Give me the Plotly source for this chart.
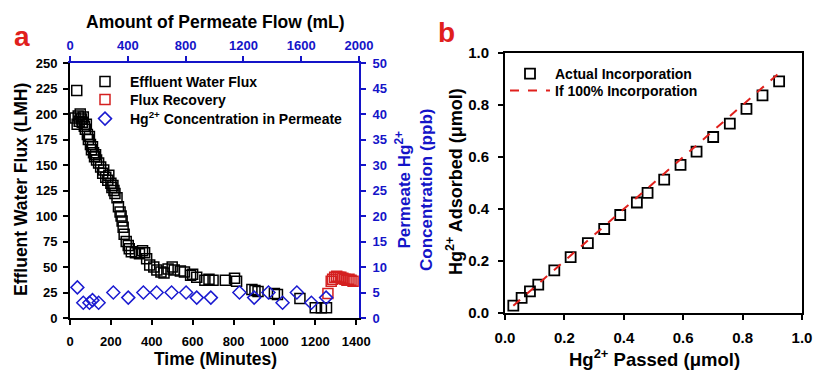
import plotly.graph_objects as go

# ---------------- data (panel a) ----------------
flux_time = [25, 33, 35, 40, 45, 50, 55, 60, 65, 70, 75, 80, 85, 90, 95, 100, 105, 110, 115, 120,
             125, 130, 140, 150, 160, 165, 175, 185, 190, 200, 205, 210, 215, 220, 230, 237, 245,
             250, 255, 260, 265, 275, 285, 290, 300, 320, 340, 355, 365, 375, 390, 410, 425, 445,
             460, 480, 500, 510, 540, 560, 590, 600, 620, 660, 680, 700, 760, 805, 815, 890, 905,
             920, 1000, 1015, 1125, 1200, 1230, 1255]
flux_val = [196, 223, 190, 198, 193, 200, 195, 192, 197, 188, 185, 190, 180, 175, 178, 170, 165, 168,
            162, 158, 160, 155, 152, 148, 142, 145, 138, 135, 140, 132, 128, 130, 125, 122, 118, 109,
            104, 100, 95, 89, 82, 75, 71, 68, 65, 64, 63, 66, 64, 58, 52, 50, 47, 45, 44, 48, 50, 47,
            46, 45, 42, 43, 40, 37, 38, 37, 37, 39, 36, 28, 27, 26, 24, 23, 19, 10, 10, 10]

recov_time = [1262, 1278, 1285, 1295, 1305, 1315, 1325, 1335, 1345, 1355, 1365, 1375, 1385]
recov_val = [24, 36, 38, 40, 41, 40, 40, 39, 38, 37, 38, 37, 36]

hg_time = [36, 65, 95, 110, 140, 212, 285, 359, 424, 497, 568, 620, 689, 829, 901, 971, 1040, 1110,
           1181, 1253]
hg_conc = [6, 3, 3, 3.5, 3, 5, 4, 5, 5, 5, 5, 4, 4, 5, 4, 5, 3, 5, 3, 4]

# ---------------- data (panel b) ----------------
passed = [0.028, 0.056, 0.084, 0.112, 0.166, 0.221, 0.279, 0.334, 0.388, 0.444, 0.480, 0.536,
          0.591, 0.645, 0.701, 0.757, 0.813, 0.867, 0.923]
adsorbed = [0.028, 0.058, 0.083, 0.109, 0.164, 0.215, 0.269, 0.323, 0.377, 0.425, 0.462, 0.513,
            0.570, 0.621, 0.677, 0.728, 0.785, 0.837, 0.891]
ideal_x = [0.028, 0.925]
ideal_y = [0.028, 0.925]

time_ticks = [0, 200, 400, 600, 800, 1000, 1200, 1400]
flow_ticks = [0, 400, 800, 1200, 1600, 2000]

W, H = 814, 370
BLUE = "#1414c8"
RED = "#e0201c"
FONT = "Liberation Sans"


def px(x):
    return x / W


def py(y):
    return 1 - y / H


def f(size, color="black"):
    return dict(family=FONT, size=size, color=color, weight="bold")


fig = go.Figure()

fig.add_trace(go.Scatter(
    x=flux_time, y=flux_val, mode="markers", name="Effluent Water Flux",
    marker=dict(symbol="square-open", size=10, color="black", line=dict(width=1.5)),
    xaxis="x", yaxis="y", legend="legend"))
fig.add_trace(go.Scatter(
    x=recov_time, y=recov_val, mode="markers", name="Flux Recovery",
    marker=dict(symbol="square-open", size=10, color="#d42020", line=dict(width=1.5)),
    xaxis="x", yaxis="y", legend="legend2"))
fig.add_trace(go.Scatter(
    x=hg_time, y=hg_conc, mode="markers", name="Hg<sup>2+</sup> Concentration in Permeate",
    marker=dict(symbol="diamond-open", size=10, color="#1a1ad0", line=dict(width=1.5)),
    xaxis="x", yaxis="y2", legend="legend3"))
# invisible helper so the top (permeate flow) axis is drawn
fig.add_trace(go.Scatter(
    x=[flow_ticks[0], flow_ticks[-1]], y=[None, None], mode="markers",
    marker=dict(opacity=0), hoverinfo="skip", showlegend=False,
    xaxis="x3", yaxis="y"))

fig.add_trace(go.Scatter(
    x=passed, y=adsorbed, mode="markers", name="Actual Incorporation",
    marker=dict(symbol="square-open", size=10, color="black", line=dict(width=1.8)),
    xaxis="x2", yaxis="y3", legend="legend4"))
fig.add_trace(go.Scatter(
    x=ideal_x, y=ideal_y, mode="lines", name="If 100% Incorporation",
    line=dict(color=RED, width=2, dash="dash"),
    xaxis="x2", yaxis="y3", legend="legend5"))

axcommon = dict(showgrid=False, zeroline=False, showline=True, ticks="outside", ticklen=5,
                tickwidth=1.5, automargin=False)

dom_ax = [px(70), px(359)]
dom_ay = [py(318), py(63)]
dom_bx = [px(505), px(802)]
dom_by = [py(313), py(53)]

leg = dict(bgcolor="rgba(0,0,0,0)", borderwidth=0, xanchor="left", yanchor="middle",
           itemwidth=40, font=f(14))

fig.update_layout(
    width=W, height=H, margin=dict(l=0, r=0, t=0, b=0),
    paper_bgcolor="white", plot_bgcolor="white",
    xaxis=dict(domain=dom_ax, range=[0, 1414], anchor="y", tickvals=time_ticks,
               linecolor="black", linewidth=1.8, tickcolor="black", tickfont=f(13),
               ticklabelstandoff=5, **axcommon),
    xaxis3=dict(overlaying="x", side="top", anchor="y", range=[0, 2000], tickvals=flow_ticks,
                linecolor=BLUE, linewidth=1.8, tickcolor=BLUE, tickfont=f(13, BLUE),
                ticklabelstandoff=1, **axcommon),
    yaxis=dict(domain=dom_ay, range=[0, 250], anchor="x", dtick=25,
               linecolor="black", linewidth=1.8, tickcolor="black", tickfont=f(13),
               ticklabelstandoff=3, **axcommon),
    yaxis2=dict(overlaying="y", side="right", anchor="x", range=[0, 50], dtick=5,
                linecolor=BLUE, linewidth=1.8, tickcolor=BLUE, tickfont=f(13, BLUE),
                ticklabelstandoff=4, **axcommon),
    xaxis2=dict(domain=dom_bx, range=[0, 1], anchor="y3", dtick=0.2, tickformat=".1f", mirror=True,
                linecolor="black", linewidth=1.8, tickcolor="black", tickfont=f(15),
                ticklabelstandoff=5, **axcommon),
    yaxis3=dict(domain=dom_by, range=[0, 1], anchor="x2", dtick=0.2, tickformat=".1f", mirror=True,
                linecolor="black", linewidth=1.8, tickcolor="black", tickfont=f(15),
                ticklabelstandoff=6, **axcommon),
    legend=dict(x=px(80), y=py(82), **leg),
    legend2=dict(x=px(80), y=py(100), **leg),
    legend3=dict(x=px(80), y=py(119), **leg),
    legend4=dict(x=px(505), y=py(74), **leg),
    legend5=dict(x=px(505), y=py(91), **leg),
    showlegend=True,
)

annos = [
    dict(text="a", x=px(22), y=py(37), font=f(28, RED)),
    dict(text="b", x=px(447), y=py(33), font=f(28, RED)),
    dict(text="Amount of Permeate Flow (mL)", x=px(215), y=py(22), font=f(17.5)),
    dict(text="Time (Minutes)", x=px(215), y=py(359), font=f(17.5)),
    dict(text="Effluent Water Flux (LMH)", x=px(21), y=py(190), font=f(17.5), textangle=-90),
    dict(text="Permeate Hg<sup>2+</sup><br>Concentration (ppb)", x=px(414), y=py(190),
         font=f(17, BLUE), textangle=-90),
    dict(text="Hg<sup>2+</sup> Adsorbed (μmol)", x=px(454), y=py(182), font=f(18), textangle=-90),
    dict(text="Hg<sup>2+</sup> Passed (μmol)", x=px(654), y=py(358), font=f(18.5)),
]
for a in annos:
    fig.add_annotation(xref="paper", yref="paper", showarrow=False,
                       xanchor="center", yanchor="middle", **a)

fig.write_html("out.html", config={"displayModeBar": False},
               post_script="document.body.style.margin='0';")
